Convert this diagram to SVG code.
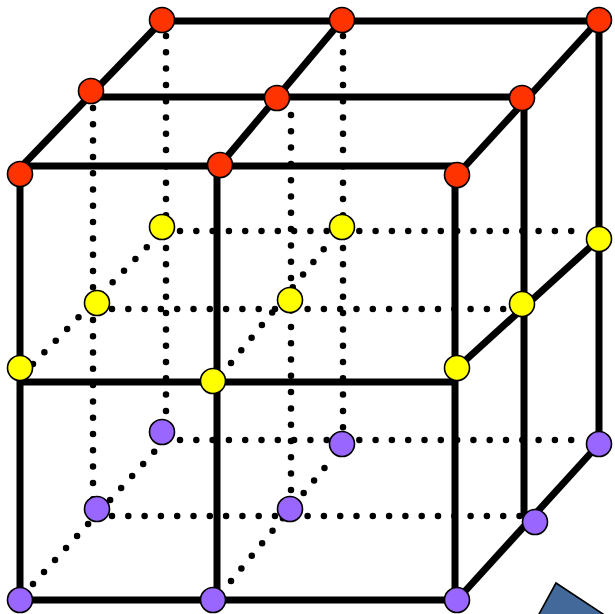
<svg xmlns="http://www.w3.org/2000/svg" width="615" height="614" viewBox="0 0 615 614">
<style>
.s{stroke:#000;stroke-width:7;fill:none;stroke-linecap:butt}
.d{stroke:#000;stroke-width:6.5;fill:none;stroke-linecap:round;stroke-dasharray:0 16.3}
.n{stroke:#000;stroke-width:1.6}
.r{fill:#FF3300}
.y{fill:#FFFF00}
.p{fill:#9966FF}
</style>
<rect width="615" height="614" fill="#fff"/>
<g id="connectors">
<!-- dotted hidden lines -->
<g id="dotted">
<line class="d" x1="166" y1="36" x2="166" y2="420"/>
<line class="d" x1="343" y1="36" x2="343" y2="430"/>
<line class="d" x1="93" y1="108" x2="93" y2="500"/>
<line class="d" x1="291" y1="115" x2="291" y2="500"/>
<line class="d" x1="180" y1="231" x2="585" y2="231"/>
<line class="d" x1="112" y1="309" x2="505" y2="309"/>
<line class="d" x1="180" y1="440" x2="585" y2="440"/>
<line class="d" x1="112" y1="516" x2="520" y2="516"/>
<line class="d" x1="33" y1="364" x2="150" y2="244"/>
<line class="d" x1="231" y1="363" x2="328" y2="244"/>
<line class="d" x1="33" y1="584" x2="155" y2="451"/>
<line class="d" x1="231" y1="581" x2="331" y2="460"/>
</g>
<g id="solid">
<!-- top face -->
<line class="s" x1="162" y1="21" x2="599" y2="21"/>
<line class="s" x1="91" y1="97" x2="522" y2="97"/>
<line class="s" x1="20" y1="166" x2="457" y2="166"/>
<line class="s" x1="20" y1="168" x2="162" y2="21"/>
<line class="s" x1="220" y1="165" x2="342" y2="20"/>
<line class="s" x1="457" y1="175" x2="599" y2="20"/>
<!-- verticals -->
<line class="s" x1="20" y1="174" x2="20" y2="600"/>
<line class="s" x1="217" y1="165" x2="217" y2="600"/>
<line class="s" x1="455" y1="175" x2="455" y2="600"/>
<line class="s" x1="524" y1="97" x2="524" y2="518"/>
<line class="s" x1="599" y1="20" x2="599" y2="444"/>
<!-- middle layer -->
<line class="s" x1="20" y1="382" x2="455" y2="382"/>
<line class="s" x1="457" y1="368" x2="599" y2="239"/>
<!-- bottom layer -->
<line class="s" x1="20" y1="600" x2="457" y2="600"/>
<line class="s" x1="457" y1="600" x2="599" y2="444"/>
</g>
</g>
<g id="nodes">
<g id="r1"><circle class="n r" cx="162" cy="20" r="12.5"/></g>
<g id="r2"><circle class="n r" cx="342" cy="20" r="12.5"/></g>
<g id="r3"><circle class="n r" cx="599" cy="20" r="12.5"/></g>
<g id="r4"><circle class="n r" cx="91" cy="91" r="12.5"/></g>
<g id="r5"><circle class="n r" cx="277" cy="98" r="12.5"/></g>
<g id="r6"><circle class="n r" cx="522" cy="98" r="12.5"/></g>
<g id="r7"><circle class="n r" cx="20" cy="174" r="12.5"/></g>
<g id="r8"><circle class="n r" cx="220" cy="165" r="12.5"/></g>
<g id="r9"><circle class="n r" cx="457" cy="175" r="12.5"/></g>
<g id="y1"><circle class="n y" cx="162" cy="227" r="12.5"/></g>
<g id="y2"><circle class="n y" cx="342" cy="227" r="12.5"/></g>
<g id="y3"><circle class="n y" cx="599" cy="239" r="12.5"/></g>
<g id="y4"><circle class="n y" cx="97" cy="303" r="12.5"/></g>
<g id="y5"><circle class="n y" cx="290" cy="300" r="12.5"/></g>
<g id="y6"><circle class="n y" cx="522" cy="304" r="12.5"/></g>
<g id="y7"><circle class="n y" cx="20" cy="368" r="12.5"/></g>
<g id="y8"><circle class="n y" cx="213" cy="381" r="12.5"/></g>
<g id="y9"><circle class="n y" cx="457" cy="368" r="12.5"/></g>
<g id="p1"><circle class="n p" cx="162" cy="432" r="12.5"/></g>
<g id="p2"><circle class="n p" cx="342" cy="444" r="12.5"/></g>
<g id="p3"><circle class="n p" cx="599" cy="444" r="12.5"/></g>
<g id="p4"><circle class="n p" cx="97" cy="509" r="12.5"/></g>
<g id="p5"><circle class="n p" cx="290" cy="509" r="12.5"/></g>
<g id="p6"><circle class="n p" cx="535" cy="522" r="12.5"/></g>
<g id="p7"><circle class="n p" cx="20" cy="600" r="12.5"/></g>
<g id="p8"><circle class="n p" cx="213" cy="600" r="12.5"/></g>
<g id="p9"><circle class="n p" cx="457" cy="600" r="12.5"/></g>
</g>
<polygon points="556,583 538,616 606,616" fill="#43699A" stroke="#000" stroke-width="1.6"/>
</svg>
